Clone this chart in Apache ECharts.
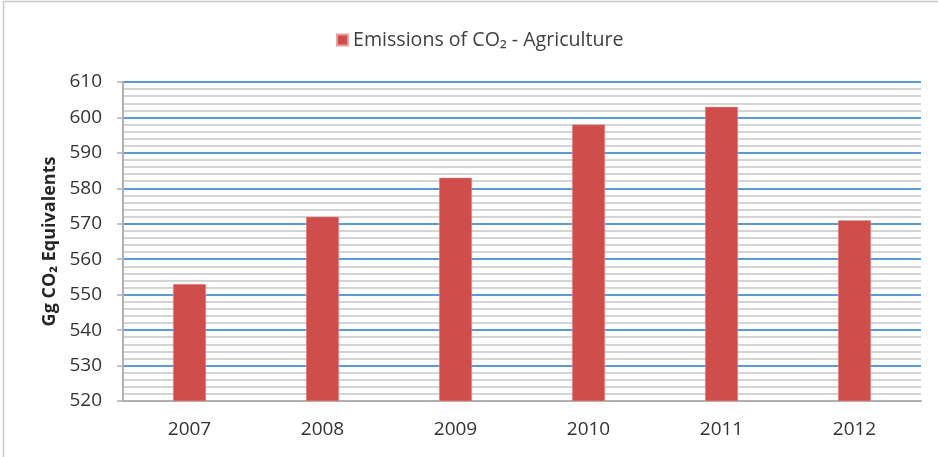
<!DOCTYPE html>
<html>
<head>
<meta charset="utf-8">
<style>
  html, body { margin: 0; padding: 0; background: #fff; }
  #chart { width: 938px; height: 457px; }
</style>
<script src="https://cdn.jsdelivr.net/npm/echarts@6/dist/echarts.min.js"></script>
</head>
<body>
<div id="chart"></div>
<script>
// Annual agricultural CO2 emissions (Gg CO2 equivalents)
const years = ['2007', '2008', '2009', '2010', '2011', '2012'];
const emissions = [553, 572, 583, 598, 603, 571];
const seriesName = 'Emissions of CO\u2082 - Agriculture';
const yAxisTitle = 'Gg CO\u2082 Equivalents';

const chart = echarts.init(document.getElementById('chart'), null, { renderer: 'canvas' });

chart.setOption({
  animation: false,
  backgroundColor: '#ffffff',
  textStyle: { fontFamily: 'Open Sans, Noto Sans, sans-serif' },
  graphic: [
    {
      type: 'polyline',
      shape: { points: [[3.5, 457], [3.5, 1.5], [938, 1.5]] },
      style: { stroke: '#c8c8c8', lineWidth: 1.5, fill: null }
    }
  ],
  legend: {
    top: 25,
    left: 331,
    itemWidth: 11,
    itemHeight: 11,
    itemGap: 6,
    icon: 'rect',
    textStyle: { fontSize: 19.6, color: '#404040', fontFamily: 'Open Sans, sans-serif' },
    data: [seriesName]
  },
  grid: { left: 123, right: 17, top: 82, bottom: 56, containLabel: false },
  xAxis: {
    type: 'category',
    data: years,
    axisLine: { show: true, lineStyle: { color: '#b0b0b0', width: 2 } },
    axisTick: { show: false },
    axisLabel: { fontSize: 19, color: '#333333', margin: 19 }
  },
  yAxis: {
    type: 'value',
    min: 520,
    max: 610,
    interval: 10,
    name: yAxisTitle,
    nameLocation: 'middle',
    nameGap: 64,
    nameTextStyle: { fontSize: 18, fontWeight: 'bold', color: '#262626' },
    axisLine: { show: true, lineStyle: { color: '#b0b0b0', width: 2 } },
    axisTick: { show: true, length: 6, lineStyle: { color: '#b0b0b0', width: 1.5 } },
    axisLabel: { fontSize: 19, color: '#333333', margin: 21 },
    splitLine: { show: true, lineStyle: { color: '#5b9bd5', width: 2 } },
    minorTick: { show: false, splitNumber: 5 },
    minorSplitLine: { show: true, lineStyle: { color: '#d4d4d4', width: 2 } }
  },
  series: [
    {
      name: seriesName,
      type: 'bar',
      data: emissions,
      barWidth: 33,
      itemStyle: { color: '#cf4d4a', borderColor: '#e2a3a1', borderWidth: 0.5 },
      z: 3
    }
  ]
});
</script>
</body>
</html>
